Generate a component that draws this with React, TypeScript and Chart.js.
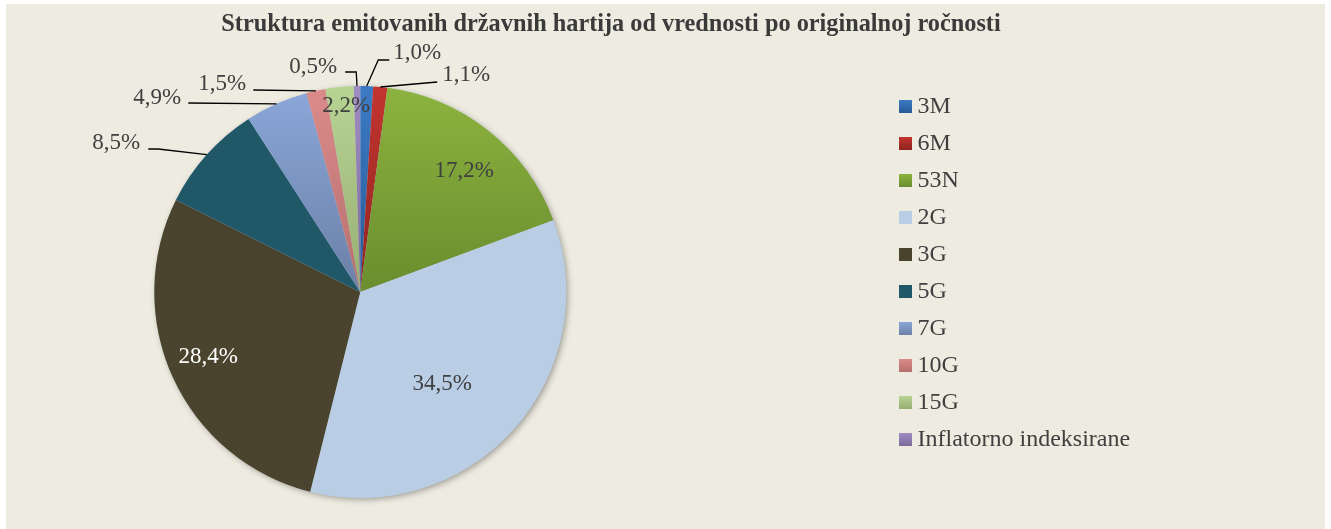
import React, { useEffect, useRef } from 'react';
import { Chart, registerables } from 'chart.js';

Chart.register(...registerables);

const TITLE = 'Struktura emitovanih državnih hartija od vrednosti po originalnoj ročnosti';
const CATEGORIES = ['3M', '6M', '53N', '2G', '3G', '5G', '7G', '10G', '15G', 'Inflatorno indeksirane'];
const SHARES = [1.0, 1.1, 17.2, 34.5, 28.4, 8.5, 4.9, 1.5, 2.2, 0.5];

const COLOR_TOP = ['#3C7BC4', '#C3352F', '#8CB33F', '#B9CDE5', '#4A432D', '#215868', '#8AA6D8', '#DB8B8A', '#B8D493', '#A18DC4'];
const COLOR_BOTTOM = ['#285A96', '#8F2420', '#6A8D2E', '#B9CDE5', '#4A432D', '#215868', '#6B80A6', '#B56F6E', '#97AE73', '#7D6A9A'];

const SERIF = "'Liberation Serif', 'Times New Roman', serif";
const BG = '#EEECE1';
const TEXT = '#404040';
const REF_R = 206;

// canvas geometry (canvas is wider than the visible frame and shifted left)
const CANVAS_W = 1497;
const CANVAS_H = 525;
const CANVAS_SHIFT = 178;
const LEGEND_LEFT = 1064.5;
const LEGEND_FONT = 24;
const LEGEND_PAD = 13;
const TITLE_X = 783;
const TITLE_Y = 21;

// label placement (offsets from pie centre, at reference radius)
const LABEL_LAYOUT: { x: number; y: number; align: CanvasTextAlign; leader?: number[][]; color?: string }[] = [
  { leader: [[18, -232], [29, -232]], x: 33, y: -239.5, align: 'left' },
  { leader: [[77, -210]], x: 82, y: -217, align: 'left' },
  { x: 104, y: -121, align: 'center' },
  { x: 82, y: 92, align: 'center' },
  { x: -152, y: 65, align: 'center', color: '#FFFFFF' },
  { leader: [[-202, -143], [-212, -143]], x: -220, y: -149, align: 'right' },
  { leader: [[-172, -189]], x: -179, y: -194, align: 'right' },
  { leader: [[-107, -202]], x: -114, y: -208, align: 'right' },
  { x: -14, y: -186, align: 'center' },
  { leader: [[-4, -220], [-15, -220]], x: -23, y: -225, align: 'right' },
];

const fmt = (v: number) => v.toFixed(1).replace('.', ',') + '%';

function sliceFill(c: any) {
  const i = c.dataIndex;
  const chart = c.chart;
  const area = chart.chartArea;
  if (!area || c.type !== 'data') return COLOR_TOP[i];
  const cx = (area.left + area.right) / 2;
  const cy = (area.top + area.bottom) / 2;
  const r = Math.min(area.right - area.left, area.bottom - area.top) / 2;
  const total = SHARES.reduce((a, b) => a + b, 0);
  let acc = 0;
  for (let j = 0; j < i; j++) acc += SHARES[j];
  const a0 = -Math.PI / 2 + (acc / total) * Math.PI * 2;
  const a1 = a0 + (SHARES[i] / total) * Math.PI * 2;
  let ymin = Math.min(cy, cy + r * Math.sin(a0), cy + r * Math.sin(a1));
  let ymax = Math.max(cy, cy + r * Math.sin(a0), cy + r * Math.sin(a1));
  if (a0 <= -Math.PI / 2 + 1e-6) ymin = cy - r;
  if (a0 <= Math.PI / 2 && a1 >= Math.PI / 2) ymax = cy + r;
  const g = chart.ctx.createLinearGradient(0, ymin, 0, ymax);
  g.addColorStop(0, COLOR_TOP[i]);
  g.addColorStop(1, COLOR_BOTTOM[i]);
  return g;
}

function legendSwatch(i: number) {
  const cv = document.createElement('canvas');
  cv.width = 13;
  cv.height = 13;
  const x = cv.getContext('2d')!;
  const g = x.createLinearGradient(0, 0, 0, 13);
  g.addColorStop(0, COLOR_TOP[i]);
  g.addColorStop(1, COLOR_BOTTOM[i]);
  x.fillStyle = g;
  x.fillRect(0, 0, 13, 13);
  return cv;
}

const shadowPlugin = {
  id: 'pieShadow',
  beforeDatasetsDraw(chart: any) {
    const arc = chart.getDatasetMeta(0).data[0];
    if (!arc) return;
    const { x, y, outerRadius } = arc.getProps(['x', 'y', 'outerRadius'], true);
    const ctx = chart.ctx;
    ctx.save();
    ctx.shadowColor = 'rgba(0,0,0,0.35)';
    ctx.shadowBlur = 6;
    ctx.shadowOffsetX = 2;
    ctx.shadowOffsetY = 2;
    ctx.fillStyle = '#B9CDE5';
    ctx.beginPath();
    ctx.arc(x, y, outerRadius - 0.5, 0, Math.PI * 2);
    ctx.fill();
    ctx.restore();
  },
};

const titlePlugin = {
  id: 'frameTitle',
  afterDraw(chart: any) {
    const ctx = chart.ctx;
    ctx.save();
    ctx.font = `bold 24.3px ${SERIF}`;
    ctx.fillStyle = '#3A3A3A';
    ctx.textAlign = 'center';
    ctx.textBaseline = 'middle';
    ctx.fillText(TITLE, TITLE_X, TITLE_Y);
    ctx.restore();
  },
};

const labelPlugin = {
  id: 'sliceLabels',
  afterDatasetsDraw(chart: any) {
    const meta = chart.getDatasetMeta(0);
    const ctx = chart.ctx;
    ctx.save();
    ctx.font = `23px ${SERIF}`;
    ctx.textBaseline = 'middle';
    ctx.lineWidth = 1.3;
    ctx.strokeStyle = '#000000';
    meta.data.forEach((arc: any, i: number) => {
      const { x, y, startAngle, endAngle, outerRadius } = arc.getProps(
        ['x', 'y', 'startAngle', 'endAngle', 'outerRadius'],
        true
      );
      const k = outerRadius / REF_R;
      const L = LABEL_LAYOUT[i];
      if (L.leader) {
        const mid = (startAngle + endAngle) / 2;
        ctx.beginPath();
        ctx.moveTo(x + Math.cos(mid) * outerRadius, y + Math.sin(mid) * outerRadius);
        L.leader.forEach(([dx, dy]) => ctx.lineTo(x + dx * k, y + dy * k));
        ctx.stroke();
      }
      ctx.fillStyle = L.color || TEXT;
      ctx.textAlign = L.align;
      ctx.fillText(fmt(SHARES[i]), x + L.x * k, y + L.y * k);
    });
    ctx.restore();
  },
};

export default function App() {
  const ref = useRef<HTMLCanvasElement>(null);
  useEffect(() => {
    const canvas = ref.current;
    if (!canvas) return;
    const swatches = CATEGORIES.map((_, i) => legendSwatch(i));
    // natural legend width, so that the legend's left edge lands where wanted
    const mctx = canvas.getContext('2d')!;
    mctx.font = `${LEGEND_FONT}px ${SERIF}`;
    const widest = Math.max(...CATEGORIES.map((t) => mctx.measureText(t).width));
    const legendWidth = LEGEND_PAD + 0.01 + LEGEND_FONT / 2 + widest + 10;
    const padRight = CANVAS_W - LEGEND_LEFT - legendWidth;

    const chart = new Chart(canvas, {
      type: 'pie',
      data: {
        labels: CATEGORIES,
        datasets: [
          {
            data: SHARES,
            backgroundColor: sliceFill as any,
            borderWidth: 0,
            hoverOffset: 0,
          },
        ],
      },
      options: {
        responsive: false,
        animation: false,
        events: [],
        layout: { padding: { top: 77.5, bottom: 31, left: 0, right: padRight } },
        plugins: {
          tooltip: { enabled: false },
          title: {
            display: true,
            text: '',
            font: { size: 1, lineHeight: '4.5px' as any },
            padding: 0,
          },
          legend: {
            position: 'right',
            align: 'start',
            labels: {
              usePointStyle: true,
              pointStyleWidth: 0.01,
              boxWidth: 13,
              boxHeight: 13,
              padding: LEGEND_PAD,
              color: TEXT,
              font: { family: SERIF, size: LEGEND_FONT },
              generateLabels: () =>
                CATEGORIES.map((t, i) => ({
                  text: t,
                  fillStyle: COLOR_TOP[i],
                  strokeStyle: COLOR_TOP[i],
                  lineWidth: 0,
                  fontColor: TEXT,
                  pointStyle: swatches[i] as any,
                  hidden: false,
                  index: i,
                })),
            },
          },
        },
      },
      plugins: [shadowPlugin, labelPlugin, titlePlugin],
    });
    return () => chart.destroy();
  }, []);
  return (
    <div
      style={{
        position: 'absolute',
        left: 6,
        top: 4,
        width: 1319,
        height: CANVAS_H,
        background: BG,
        overflow: 'hidden',
      }}
    >
      <canvas
        ref={ref}
        width={CANVAS_W}
        height={CANVAS_H}
        style={{ display: 'block', marginLeft: -CANVAS_SHIFT }}
      />
    </div>
  );
}
